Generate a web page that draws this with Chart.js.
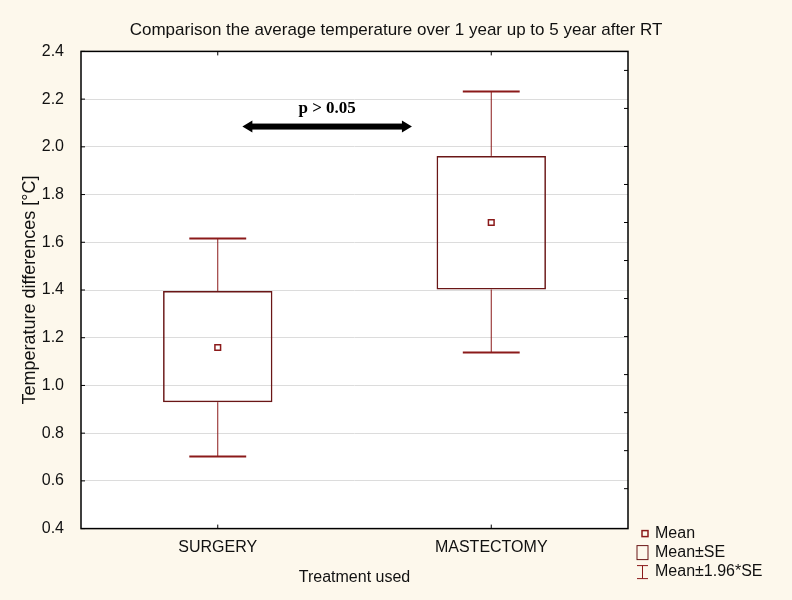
<!DOCTYPE html>
<html lang="en">
<head>
    <meta charset="UTF-8">
    <title>Temperature differences</title>
    <style>
        * { margin: 0; padding: 0; box-sizing: border-box; }
        body { background-color: #fdf8ec; }
        .wrap { width: 792px; height: 600px; position: relative; }
    </style>
    <script src="https://cdn.jsdelivr.net/npm/chart.js"></script>
</head>
<body>
    <div class="wrap">
        <canvas id="boxChart"></canvas>
    </div>

    <script>
        // values
        const categories = ['SURGERY', 'MASTECTOMY'];
        const means = [1.159, 1.683];
        const seLow = [0.930, 1.402];
        const seHigh = [1.396, 1.962];
        const ciLow = [0.702, 1.138];
        const ciHigh = [1.616, 2.232];
        const yTicks = [0.4, 0.6, 0.8, 1.0, 1.2, 1.4, 1.6, 1.8, 2.0, 2.2, 2.4];
        const arrowFromTo = [0.09, 0.71];
        const arrowLevel = 2.085;
        const pLabelLevel = 2.16;
        const pLabel = 'p > 0.05';
        const legendLabels = ['Mean', 'Mean\u00b1SE', 'Mean\u00b11.96*SE'];

        const red = '#8b1a1a';
        const darkRed = '#6a1616';
        const font = '"Liberation Sans", Arial, sans-serif';

        const boxPlugin = {
            id: 'boxExtras',
            beforeDraw(chart) {
                const { ctx, chartArea: a } = chart;
                ctx.save();
                ctx.fillStyle = '#ffffff';
                ctx.fillRect(a.left, a.top, a.right - a.left, a.bottom - a.top);
                ctx.restore();
            },
            beforeDatasetsDraw(chart) {
                const { ctx, scales: { x, y } } = chart;
                const bars = chart.getDatasetMeta(0).data;
                ctx.save();
                ctx.strokeStyle = red;
                categories.forEach((c, i) => {
                    const cx = x.getPixelForValue(i);
                    const half = bars[i].width * 0.26;
                    ctx.lineWidth = 1;
                    ctx.beginPath();
                    ctx.moveTo(cx, y.getPixelForValue(ciHigh[i]));
                    ctx.lineTo(cx, y.getPixelForValue(seHigh[i]));
                    ctx.moveTo(cx, y.getPixelForValue(seLow[i]));
                    ctx.lineTo(cx, y.getPixelForValue(ciLow[i]));
                    ctx.stroke();
                    ctx.lineWidth = 2;
                    ctx.beginPath();
                    ctx.moveTo(cx - half, y.getPixelForValue(ciHigh[i]));
                    ctx.lineTo(cx + half, y.getPixelForValue(ciHigh[i]));
                    ctx.moveTo(cx - half, y.getPixelForValue(ciLow[i]));
                    ctx.lineTo(cx + half, y.getPixelForValue(ciLow[i]));
                    ctx.stroke();
                });
                ctx.restore();
            },
            afterDraw(chart) {
                const { ctx, chartArea: a, scales: { x, y, y2 } } = chart;
                ctx.save();

                // frame and inward ticks
                ctx.strokeStyle = '#000';
                ctx.lineWidth = 1.5;
                ctx.strokeRect(a.left, a.top, a.right - a.left, a.bottom - a.top);
                ctx.lineWidth = 1;
                ctx.beginPath();
                y.ticks.forEach(t => {
                    const py = y.getPixelForValue(t.value);
                    ctx.moveTo(a.left, py); ctx.lineTo(a.left + 4, py);
                });
                y2.ticks.forEach(t => {
                    const py = y2.getPixelForValue(t.value);
                    if (py > a.top + 2 && py < a.bottom - 2) { ctx.moveTo(a.right, py); ctx.lineTo(a.right - 4, py); }
                });
                categories.forEach((c, i) => {
                    const px = x.getPixelForValue(i);
                    ctx.moveTo(px, a.top); ctx.lineTo(px, a.top + 4);
                    ctx.moveTo(px, a.bottom); ctx.lineTo(px, a.bottom - 4);
                });
                ctx.stroke();

                // significance arrow
                const x1 = x.getPixelForValue(arrowFromTo[0]);
                const x2 = x.getPixelForValue(arrowFromTo[1]);
                const ay = y.getPixelForValue(arrowLevel);
                ctx.fillStyle = '#000';
                ctx.fillRect(x1 + 8, ay - 3, x2 - x1 - 16, 6);
                ctx.beginPath();
                ctx.moveTo(x1, ay); ctx.lineTo(x1 + 10, ay - 6); ctx.lineTo(x1 + 10, ay + 6); ctx.closePath();
                ctx.moveTo(x2, ay); ctx.lineTo(x2 - 10, ay - 6); ctx.lineTo(x2 - 10, ay + 6); ctx.closePath();
                ctx.fill();
                ctx.font = 'bold 17px "Liberation Serif", serif';
                ctx.textAlign = 'center';
                ctx.textBaseline = 'middle';
                ctx.fillText(pLabel, (x1 + x2) / 2, y.getPixelForValue(pLabelLevel));

                // legend
                const lx = a.right + 12;
                const ly = a.bottom + 5;
                ctx.font = '16px ' + font;
                ctx.textAlign = 'left';
                ctx.fillStyle = '#111';
                legendLabels.forEach((t, i) => ctx.fillText(t, lx + 15, ly + i * 19));
                ctx.strokeStyle = red;
                ctx.lineWidth = 1.5;
                ctx.strokeRect(lx + 2, ly - 3, 6, 6);
                ctx.strokeStyle = darkRed;
                ctx.lineWidth = 1;
                ctx.strokeRect(lx - 3, ly + 19 - 7, 11, 14);
                ctx.strokeStyle = red;
                ctx.beginPath();
                ctx.moveTo(lx + 2.5, ly + 38 - 6); ctx.lineTo(lx + 2.5, ly + 38 + 7);
                ctx.moveTo(lx - 3, ly + 38 - 6); ctx.lineTo(lx + 8, ly + 38 - 6);
                ctx.moveTo(lx - 3, ly + 38 + 7); ctx.lineTo(lx + 8, ly + 38 + 7);
                ctx.stroke();
                ctx.restore();
            }
        };

        new Chart(document.getElementById('boxChart'), {
            data: {
                labels: categories,
                datasets: [
                    {
                        type: 'bar',
                        label: 'Mean\u00b1SE',
                        data: categories.map((c, i) => [seLow[i], seHigh[i]]),
                        backgroundColor: 'rgba(255,255,255,0)',
                        borderColor: darkRed,
                        borderWidth: 1.5,
                        borderSkipped: false,
                        barPercentage: 0.4,
                        categoryPercentage: 1.0,
                        order: 2
                    },
                    {
                        type: 'line',
                        label: 'Mean',
                        data: means,
                        showLine: false,
                        pointStyle: 'rect',
                        pointRadius: 4,
                        pointBorderWidth: 1.5,
                        pointBackgroundColor: '#ffffff',
                        pointBorderColor: red,
                        order: 1
                    }
                ]
            },
            options: {
                responsive: true,
                maintainAspectRatio: false,
                animation: false,
                layout: { padding: { left: 0, right: 0, top: 0, bottom: 9 } },
                plugins: {
                    legend: { display: false },
                    tooltip: { enabled: false },
                    title: {
                        display: true,
                        text: 'Comparison the average temperature over 1 year up to 5 year after RT',
                        color: '#111',
                        font: { family: font, size: 17, weight: 'normal' },
                        padding: { top: 20, bottom: 11 }
                    }
                },
                scales: {
                    x: {
                        offset: true,
                        grid: { display: false },
                        border: { display: false },
                        ticks: { color: '#111', font: { family: font, size: 16 }, padding: 1 },
                        title: {
                            display: true,
                            text: 'Treatment used',
                            color: '#111',
                            font: { family: font, size: 16 },
                            padding: { top: 10 }
                        }
                    },
                    y: {
                        min: 0.4,
                        max: 2.4,
                        afterBuildTicks: axis => { axis.ticks = yTicks.map(v => ({ value: v })); },
                        afterFit: axis => { axis.width = 81; },
                        grid: { color: '#dcdcdc', tickLength: 0 },
                        border: { display: false },
                        ticks: {
                            color: '#111',
                            font: { family: font, size: 16 },
                            padding: 17,
                            callback: v => Number(v).toFixed(1)
                        },
                        title: {
                            display: true,
                            text: 'Temperature differences [\u00b0C]',
                            color: '#111',
                            font: { family: font, size: 18 },
                            padding: { top: 19, bottom: 0 }
                        }
                    },
                    y2: {
                        position: 'right',
                        min: -0.05,
                        max: 12.5,
                        afterFit: axis => { axis.width = 164; },
                        ticks: { display: false, stepSize: 1 },
                        grid: { display: false },
                        border: { display: false }
                    }
                }
            },
            plugins: [boxPlugin]
        });
    </script>
</body>
</html>
